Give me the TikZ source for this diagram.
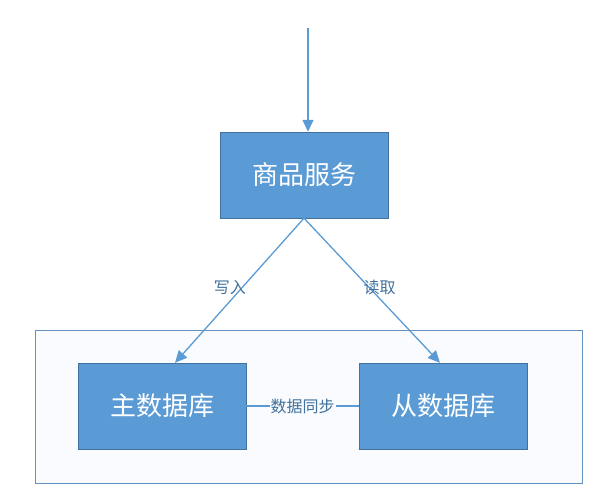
\documentclass[tikz,border=0pt]{standalone}
\usepackage{fontspec}
\newfontfamily\cjk{Noto Sans CJK SC}
\usetikzlibrary{arrows.meta, positioning}
\definecolor{box_blue}{RGB}{91, 155, 213}
\definecolor{edge_blue}{RGB}{65, 113, 156}
\definecolor{frame_blue}{RGB}{100, 145, 190}
\definecolor{pale_blue}{RGB}{249, 251, 254}

\begin{document}
\begin{tikzpicture}[x=1pt, y=-1pt,
    % Node styles
    service/.style={
        rectangle,
        draw=edge_blue,
        fill=box_blue,
        text=white,
        minimum width=168pt,
        minimum height=86pt,
        align=center,
        font=\cjk\fontsize{26}{30}\selectfont
    },
    tag/.style={
        text=edge_blue,
        fill=white,
        inner sep=1pt,
        font=\cjk\fontsize{16}{18}\selectfont
    },
    arrow/.style={
        -{Triangle[length=12pt, width=11pt]},
        line width=1.3pt,
        #1
    }
]
\useasboundingbox (0,0) rectangle (609,498);

% outer frame
\node[draw=frame_blue, fill=pale_blue, line width=1pt, minimum width=547pt, minimum height=153pt, inner sep=0pt] (frame) at (308.5,406.5) {};

% Position nodes
\coordinate (entry) at (308,28);
\node[service] (goods) at (304,175) {商品服务};
\node[service] (master) at (162,406) {主数据库};
\node[service] (slave) at (443,406) {从数据库};

% draw arrows
\draw[arrow=box_blue] (entry) -- (goods.north -| entry);
\draw[arrow=box_blue] (goods.south) -- node[pos=0.5, tag, fill=none, above left=-6pt and -8pt] {写入} ([xshift=13pt]master.north);
\draw[arrow=box_blue] (goods.south) -- node[pos=0.5, tag, fill=none, above right=-6pt and -10pt] {读取} ([xshift=-3pt]slave.north);
\draw[box_blue, line width=1.3pt] (master.east) -- node[tag, fill=pale_blue] {数据同步} (slave.west);

\end{tikzpicture}
\end{document}
